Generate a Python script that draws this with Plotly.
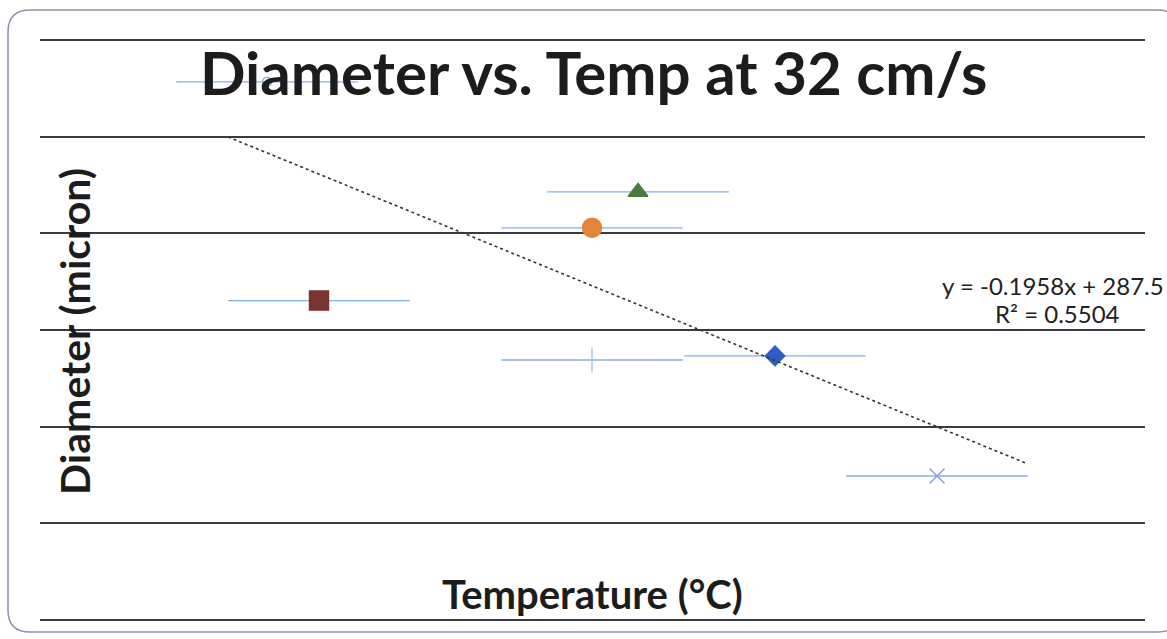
import plotly.graph_objects as go

# ---- data ----
series_names = ["S1", "S2", "S3", "S4", "S5", "S6", "S7"]
temps = [234.6, 290.7, 585.4, 585.4, 635.1, 783.0, 957.9]
diams = [278.3, 165.2, 202.8, 134.5, 221.4, 136.6, 74.5]
temp_err = [98, 98, 98, 98, 98, 98, 98]
symbols = ["circle-open", "square", "circle", "cross-thin-open", "triangle-up", "diamond", "x-thin-open"]
colors = ["#7fb0e6", "#7a3531", "#e3843a", "#a9c8ec", "#4b7a3c", "#2f5fc4", "#8a9ee0"]
sizes = [9, 19, 19, 18, 17, 15, 15]

trend_slope = -0.1958
trend_intercept = 287.5
trend_x = [192.5, 1056.0]
eq_text = "y = -0.1958x + 287.5"
r2_text = "R² = 0.5504"

title_text = "<b>Diameter vs. Temp at 32 cm/s</b>"
xtitle_text = "<b>Temperature (°C)</b>"
ytitle_text = "<b>Diameter (micron)</b>"

# ---- layout geometry ----
W, H = 1167, 639
L, R, T, B = 40, 22, 36, 15
PW, PH = W - L - R, H - T - B


def xp(px):
    return (px - L) / PW


def yp(py):
    return (H - B - py) / PH


fig = go.Figure()

for i in range(len(temps)):
    fig.add_trace(go.Scatter(
        x=[temps[i]], y=[diams[i]], mode="markers", name=series_names[i],
        marker=dict(symbol=symbols[i], color=colors[i], size=sizes[i],
                    line=dict(color=colors[i], width=1.5)),
        error_x=dict(type="data", array=[temp_err[i]], color="#86acec",
                     thickness=1.4, width=0),
        showlegend=False,
    ))

trend_y = [trend_slope * v + trend_intercept for v in trend_x]
fig.add_trace(go.Scatter(
    x=trend_x, y=trend_y, mode="lines",
    line=dict(color="#333333", width=1.6, dash="dot"),
    showlegend=False,
))

FONT = "Lato"

annotations = [
    dict(text=title_text, x=xp(593), y=yp(72), xref="paper", yref="paper",
         showarrow=False, font=dict(family=FONT, size=60, color="#1c1c1c"),
         xanchor="center", yanchor="middle"),
    dict(text=ytitle_text, x=xp(74), y=yp(332), xref="paper", yref="paper",
         showarrow=False, textangle=-90, font=dict(family=FONT, size=41, color="#1c1c1c"),
         xanchor="center", yanchor="middle"),
    dict(text=xtitle_text, x=xp(592), y=yp(594), xref="paper", yref="paper",
         showarrow=False, font=dict(family=FONT, size=40, color="#1c1c1c"),
         xanchor="center", yanchor="middle"),
    dict(text=eq_text, x=xp(1053), y=yp(285), xref="paper", yref="paper",
         showarrow=False, font=dict(family=FONT, size=24, color="#222222"),
         xanchor="center", yanchor="middle"),
    dict(text=r2_text, x=xp(1057), y=yp(313), xref="paper", yref="paper",
         showarrow=False, font=dict(family=FONT, size=24, color="#222222"),
         xanchor="center", yanchor="middle"),
]

# rounded frame around the chart (paper coordinates)
x0, x1, y0, y1, rr = 8, 1180, 10, 632, 22
fx0, fx1 = xp(x0), xp(x1)
fy0, fy1 = yp(y1), yp(y0)
rx, ry = rr / PW, rr / PH
path = (f"M {fx0+rx},{fy1} L {fx1-rx},{fy1} Q {fx1},{fy1} {fx1},{fy1-ry} "
        f"L {fx1},{fy0+ry} Q {fx1},{fy0} {fx1-rx},{fy0} "
        f"L {fx0+rx},{fy0} Q {fx0},{fy0} {fx0},{fy0+ry} "
        f"L {fx0},{fy1-ry} Q {fx0},{fy1} {fx0+rx},{fy1} Z")

fig.update_layout(
    width=W, height=H,
    margin=dict(l=L, r=R, t=T, b=B),
    paper_bgcolor="white", plot_bgcolor="white",
    annotations=annotations,
    shapes=[dict(type="path", path=path, xref="paper", yref="paper",
                 line=dict(color="#8c90a8", width=1.5), layer="below")],
    xaxis=dict(range=[-10.5, 1182.4], showgrid=False, zeroline=False,
               showticklabels=False, ticks="", showline=False),
    yaxis=dict(range=[-2, 302], tick0=0, dtick=50, showgrid=True,
               gridcolor="#3a3a44", gridwidth=1.8, zeroline=False,
               showticklabels=False, ticks="", showline=False),
)

fig.write_html(
    "out.html",
    config={"displayModeBar": False},
    post_script="document.body.style.margin='0';document.body.style.overflow='hidden';",
)
